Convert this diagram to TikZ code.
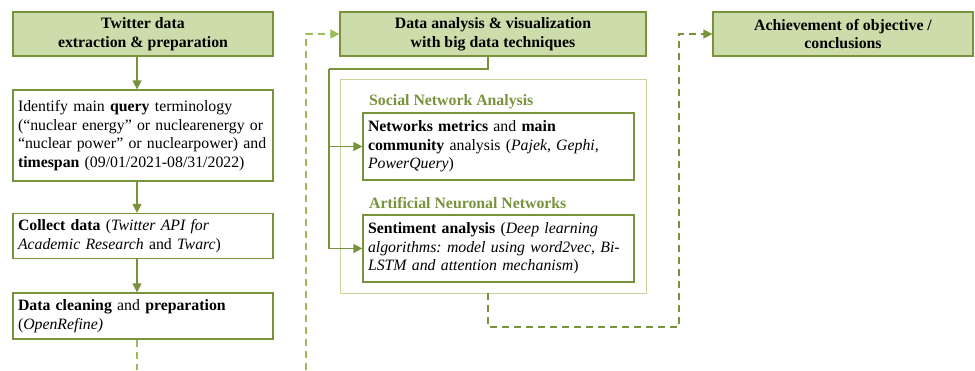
\documentclass[tikz,border=0pt]{standalone}
\usepackage{fontspec}
\setmainfont{Liberation Serif}
\usetikzlibrary{arrows.meta,calc}
\definecolor{olive}{HTML}{77933C}
\definecolor{lgreen}{HTML}{9BBB59}
\definecolor{hfill}{HTML}{CCDCAA}
\definecolor{framec}{HTML}{C3D69B}
\newcommand{\fsz}{\fontsize{15.8}{18.6}\selectfont\frenchspacing}
\tikzset{
  every node/.style={font=\fsz},
  head/.style={draw=olive, line width=1.2pt, fill=hfill, minimum height=44pt, align=center, font=\fsz\bfseries, inner sep=0pt},
  tbox/.style={draw=olive, line width=1.2pt, fill=white, align=left, inner xsep=5pt, inner ysep=0pt},
  lab/.style={text=olive, font=\fsz\bfseries, anchor=west, inner sep=0pt},
  conn/.style={draw=olive, line width=1.2pt},
  arr/.style={conn, -{Triangle[length=9pt,width=9pt]}},
  dconn/.style={draw=lgreen, line width=1.2pt, dash pattern=on 7pt off 5pt},
  dconn2/.style={draw=olive, line width=1.2pt, dash pattern=on 7pt off 5pt},
  frm/.style={draw=framec, line width=0.8pt}
}
\begin{document}
\begin{tikzpicture}[x=1pt,y=-1pt]
\useasboundingbox (0,0) rectangle (975,370);
% left column
\node[head, minimum width=260pt] (h1) at (143,34) {Twitter data\\extraction \& preparation};
\node[tbox, minimum width=260pt, text width=250pt, minimum height=91pt] (b2) at (143,135.5) {Identify main \textbf{query} terminology\\(“nuclear energy” or nuclearenergy or\\“nuclear power” or nuclearpower) and\\\textbf{timespan} (09/01/2021-08/31/2022)};
\node[tbox, minimum width=260pt, text width=250pt, minimum height=45pt] (b3) at (143,236) {\textbf{Collect data} (\textit{Twitter API for}\\\textit{Academic Research} and \textit{Twarc})};
\node[tbox, minimum width=260pt, text width=250pt, minimum height=46pt] (b4) at (143,316) {\textbf{Data cleaning} and \textbf{preparation}\\(\textit{OpenRefine)}};
% middle
\node[head, minimum width=306pt] (h2) at (493,34) {Data analysis \& visualization\\with big data techniques};
\node[frm, minimum width=306pt, minimum height=214pt, inner sep=0pt] (fr) at (493,186) {};
\node[lab] (l1) at (369,102) {Social Network Analysis};
\node[tbox, minimum width=271pt, text width=261pt, minimum height=67pt] (sna) at (498.5,146.5) {\textbf{Networks metrics} and \textbf{main}\\\textbf{community} analysis (\textit{Pajek, Gephi,}\\\textit{PowerQuery})};
\node[lab] (l2) at (369,203) {Artificial Neuronal Networks};
\node[tbox, minimum width=271pt, text width=261pt, minimum height=67pt] (ann) at (498.5,248.5) {\textbf{Sentiment analysis} (\textit{Deep learning}\\\textit{algorithms: model using word2vec, Bi-}\\\textit{LSTM and attention mechanism})};
% right
\node[head, minimum width=260pt] (h3) at (843,34) {Achievement of objective /\\conclusions};
% connectors left
\draw[arr] ([xshift=-6pt]h1.south) -- ([xshift=-6pt]b2.north);
\draw[arr] ([xshift=-6pt]b2.south) -- ([xshift=-6pt]b3.north);
\draw[arr] ([xshift=-6pt]b3.south) -- ([xshift=-6pt]b4.north);
\coordinate (c1) at (137,370);
\coordinate (c2) at (306,370);
\draw[dconn] ([xshift=-6pt]b4.south) -- (c1);
\draw[dconn, -{Triangle[length=9pt,width=9pt]}] (c2) |- (h2.west);
% middle connectors
\coordinate (j1) at (329,69);
\draw[conn] ([xshift=-5pt]h2.south) |- (j1);
\draw[arr] (j1) |- (ann.west);
\draw[arr] (j1 |- sna.west) -- (sna.west);
\coordinate (j2) at (679,327);
\draw[dconn2, -{Triangle[length=9pt,width=9pt]}] ([xshift=-5pt]fr.south) |- (j2) |- (h3.west);
\end{tikzpicture}
\end{document}
